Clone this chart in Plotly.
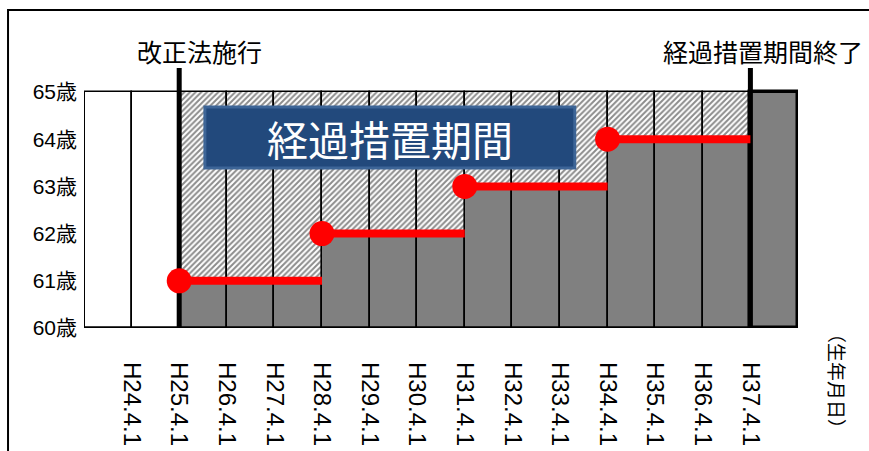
import plotly.graph_objects as go

# Birth-date boundaries (tick labels sit on the bar boundaries)
birth_dates = ["H24.4.1", "H25.4.1", "H26.4.1", "H27.4.1", "H28.4.1", "H29.4.1", "H30.4.1",
               "H31.4.1", "H32.4.1", "H33.4.1", "H34.4.1", "H35.4.1", "H36.4.1", "H37.4.1"]
# Pension starting age per birth-year band (None = not covered, drawn blank)
pension_age = [None, None, 61, 61, 61, 62, 62, 62, 63, 63, 63, 64, 64, 64, 65]
final_age = 65
base_age = 60
age_ticks = [60, 61, 62, 63, 64, 65]
age_labels = ["60歳", "61歳", "62歳", "63歳", "64歳", "65歳"]

# Step levels of the transition period: level, start boundary, end boundary
step_levels = [61, 62, 63, 64]
step_start = [2, 5, 8, 11]
step_end = [5, 8, 11, 14]
law_start = 2        # boundary where the revised law takes effect
transition_end = 14  # boundary where the transition period ends

n = len(pension_age)
centers = [i + 0.5 for i in range(n)]

JP = "Noto Sans CJK JP"
LATIN_JP = "Liberation Sans, Noto Sans CJK JP"
fig = go.Figure()

# Blank bands (full height, white)
blank_x = [c for c, a in zip(centers, pension_age) if a is None]
fig.add_trace(go.Bar(x=blank_x, y=[final_age - base_age] * len(blank_x), base=base_age,
                     width=1, marker=dict(color="white", line=dict(color="black", width=1.6)),
                     hoverinfo="skip"))

# Grey part: age at which the pension starts
grey_idx = [i for i, a in enumerate(pension_age) if a is not None and a < final_age]
fig.add_trace(go.Bar(x=[centers[i] for i in grey_idx],
                     y=[pension_age[i] - base_age for i in grey_idx], base=base_age,
                     width=1, marker=dict(color="#808080", line=dict(color="black", width=1.6)),
                     hoverinfo="skip"))

# Hatched part: remaining gap up to the final age
fig.add_trace(go.Bar(x=[centers[i] for i in grey_idx],
                     y=[final_age - pension_age[i] for i in grey_idx],
                     base=[pension_age[i] for i in grey_idx],
                     width=1,
                     marker=dict(color="white", line=dict(color="black", width=1.6),
                                 pattern=dict(shape="/", size=4, solidity=0.5,
                                              fgcolor="#1a1a1a", bgcolor="white")),
                     hoverinfo="skip"))

# Last band: full final age, heavier outline
last_idx = [i for i, a in enumerate(pension_age) if a == final_age]
fig.add_trace(go.Bar(x=[centers[i] for i in last_idx],
                     y=[final_age - base_age for i in last_idx], base=base_age,
                     width=1, marker=dict(color="#808080", line=dict(color="black", width=3.5)),
                     hoverinfo="skip"))

# Heavy markers for the start and the end of the transition period
for bx in (law_start, transition_end):
    fig.add_trace(go.Scatter(x=[bx, bx], y=[base_age, 65.52], mode="lines",
                             line=dict(color="black", width=5), hoverinfo="skip"))

# Red staircase of the starting age
sx, sy = [], []
for lv, a, b in zip(step_levels, step_start, step_end):
    sx += [a, b, None]
    sy += [lv, lv, None]
fig.add_trace(go.Scatter(x=sx, y=sy, mode="lines", line=dict(color="#ff0000", width=8),
                         hoverinfo="skip"))
fig.add_trace(go.Scatter(x=step_start, y=step_levels, mode="markers",
                         marker=dict(color="#ff0000", size=25), cliponaxis=False,
                         hoverinfo="skip"))

# Outer frame
fig.add_shape(type="rect", xref="paper", yref="paper", x0=-0.1064, x1=1.3, y0=-0.7, y1=1.223,
              line=dict(color="black", width=2), fillcolor="rgba(0,0,0,0)", layer="below")

# Left and bottom edges of the chart body
fig.add_shape(type="line", xref="x", yref="y", x0=0, x1=0, y0=base_age, y1=final_age,
              line=dict(color="black", width=2), layer="above")
fig.add_shape(type="line", xref="x", yref="y", x0=0, x1=n, y0=base_age, y1=base_age,
              line=dict(color="black", width=3), layer="above")

# "経過措置期間" label box
fig.add_shape(type="rect", xref="x", yref="y", x0=2.54, x1=10.31, y0=63.39, y1=64.68,
              fillcolor="#22497c", line=dict(color="#3d6597", width=3), layer="above")
fig.add_annotation(x=6.43, y=64.03, xref="x", yref="y", text="経過措置期間", showarrow=False,
                   font=dict(family=JP, size=41, color="white"))

# Labels above the heavy markers
fig.add_annotation(x=law_start, y=1.065, xref="x", yref="paper", xshift=20,
                   text="改正法施行", showarrow=False, yanchor="middle",
                   font=dict(family=JP, size=25, color="black"))
fig.add_annotation(x=transition_end, y=1.065, xref="x", yref="paper", xshift=13,
                   text="経過措置期間終了", showarrow=False, yanchor="middle",
                   font=dict(family=JP, size=25, color="black"))

# Axis caption for birth date
fig.add_annotation(x=1.0, y=-0.204, xref="paper", yref="paper", xshift=40,
                   text="（生年月日）", textangle=90, showarrow=False,
                   xanchor="center", yanchor="middle",
                   font=dict(family=JP, size=19, color="black"))

fig.update_layout(
    width=869, height=451,
    margin=dict(l=84, r=71, t=68, b=123, autoexpand=False),
    paper_bgcolor="white", plot_bgcolor="white",
    showlegend=False, barmode="overlay", bargap=0,
    xaxis=dict(range=[0, n], tickmode="array", tickvals=list(range(1, len(birth_dates) + 1)),
               ticktext=birth_dates, tickangle=90, showgrid=False, zeroline=False,
               ticks="", ticklabelstandoff=33, automargin=False,
               tickfont=dict(family="Liberation Sans Narrow, Liberation Sans", size=24,
                             color="black")),
    yaxis=dict(range=[60, 65.508], tickmode="array", tickvals=age_ticks, ticktext=age_labels,
               showgrid=False, zeroline=False, ticks="", ticklabelstandoff=6, automargin=False,
               tickfont=dict(family=LATIN_JP, size=21, color="black")),
)

fig.write_html("out.html")
